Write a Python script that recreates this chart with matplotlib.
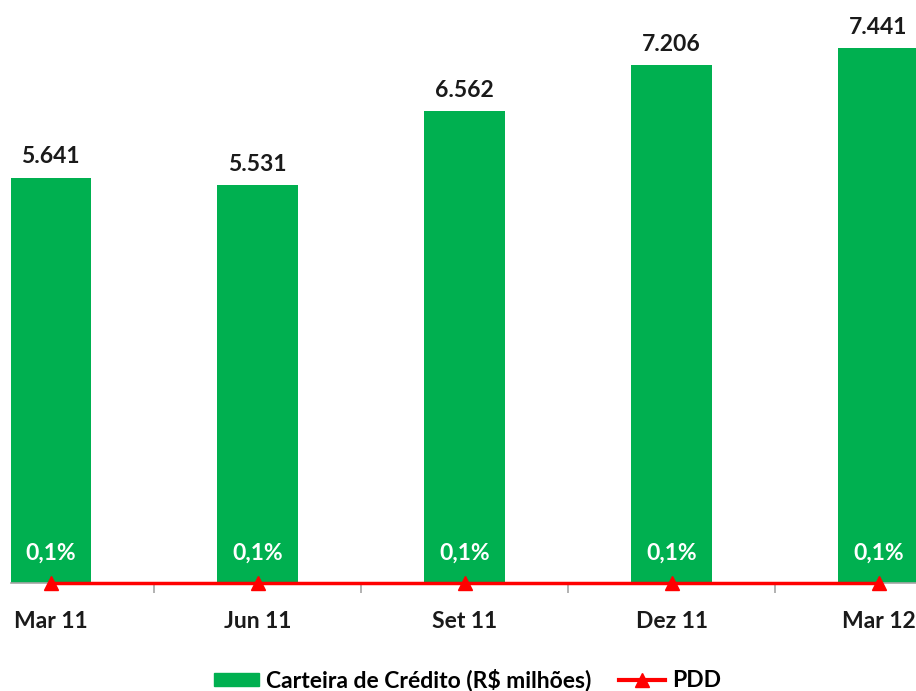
import matplotlib.pyplot as plt
from matplotlib.lines import Line2D
from matplotlib.patches import Patch

# dados
periodos = ['Mar 11', 'Jun 11', 'Set 11', 'Dez 11', 'Mar 12']
carteira = [5641, 5531, 6562, 7206, 7441]
pdd = [0.1, 0.1, 0.1, 0.1, 0.1]

VERDE = '#00B050'
VERMELHO = '#FF0000'
FS = 16.5
plt.rcParams['font.family'] = ['Lato', 'DejaVu Sans']

fig = plt.figure(figsize=(9.16, 6.91), dpi=100)
ax = fig.add_axes([11 / 916, 108 / 691, 905 / 916, 575 / 691])

x = list(range(len(periodos)))
ax.bar(x, carteira, width=0.39, color=VERDE, zorder=2)
ax.set_xlim(-0.191, 4.181)
ax.set_ylim(0, 8000)

for xi, v in zip(x, carteira):
    ax.text(xi, v + 200, f'{v:,}'.replace(',', '.'), ha='center', va='baseline',
            fontsize=FS, fontweight='bold', color='#1a1a1a')

for xi, p in zip(x, pdd):
    ax.text(xi, 420, f'{p:.1f}%'.replace('.', ','), ha='center', va='center',
            fontsize=FS, fontweight='bold', color='white', zorder=5)

# eixo
for s in ['top', 'right', 'left']:
    ax.spines[s].set_visible(False)
ax.spines['bottom'].set_color('#a6a6a6')
ax.spines['bottom'].set_linewidth(1.2)
ax.set_yticks([])
ax.set_xticks(x)
ax.set_xticklabels(periodos, fontsize=FS, fontweight='bold', color='#1a1a1a')
ax.tick_params(axis='x', which='major', length=0, pad=20)
ax.set_xticks([0.5, 1.5, 2.5, 3.5], minor=True)
ax.tick_params(axis='x', which='minor', length=7, width=1.2, color='#a6a6a6')

# PDD no eixo secundário
ax2 = ax.twinx()
ax2.set_ylim(0.07, 60)
ax2.plot(x, pdd, color=VERMELHO, lw=2.5, marker='^', markersize=10,
         clip_on=False, zorder=6)
ax2.axis('off')

handles = [Patch(color=VERDE),
           Line2D([0], [0], color=VERMELHO, lw=3, marker='^', markersize=10)]
fig.legend(handles, ['Carteira de Crédito (R$ milhões)', 'PDD'],
           loc='center', bbox_to_anchor=(0.51, 11 / 691), ncol=2, frameon=False,
           handlelength=2.0, handleheight=0.5, columnspacing=1.2,
           handletextpad=0.3, prop={'weight': 'bold', 'size': FS})

fig.savefig('out.png', dpi=100)
